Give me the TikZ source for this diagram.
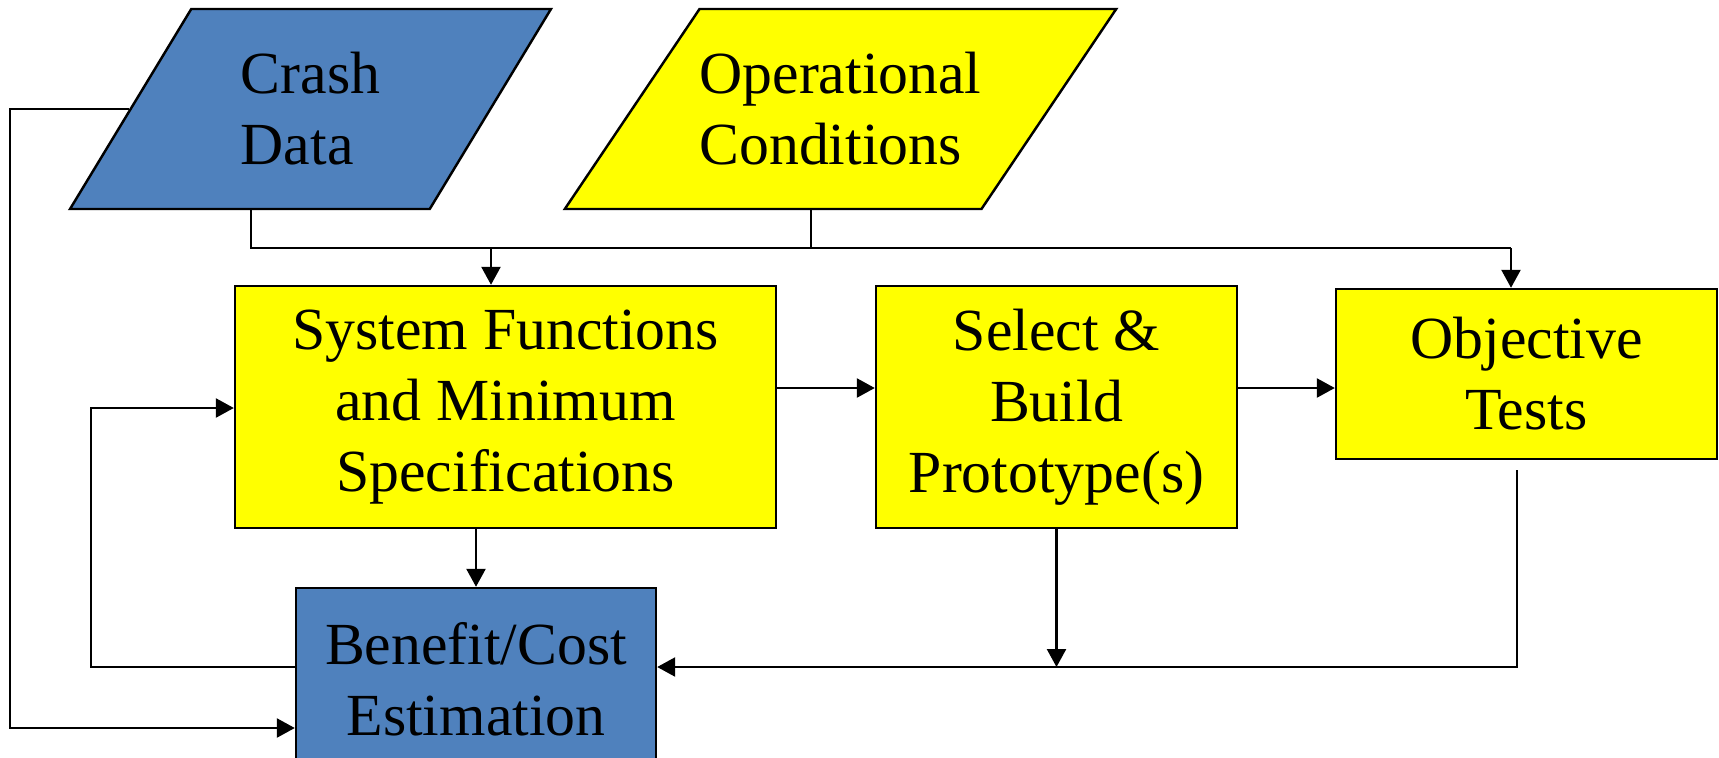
\documentclass[tikz,border=0pt]{standalone}
\usepackage{fontspec}
\setmainfont{Liberation Serif}
\usetikzlibrary{shapes.geometric}
\usetikzlibrary{arrows.meta}
\definecolor{chartblue}{RGB}{79,129,189}
\definecolor{boxyellow}{RGB}{255,255,0}

\begin{document}
\begin{tikzpicture}[x=0.02cm, y=-0.02cm, line width=1.4pt, >={Triangle[length=0.36cm,width=0.38cm]},
	box_node/.style={rectangle,draw,fill=boxyellow,inner sep=0pt,align=center,font=\fontsize{34}{40.4}\selectfont},
	data_node/.style={trapezium,trapezium stretches body,draw,minimum height=4cm,inner sep=0pt,align=left,font=\fontsize{34}{40.4}\selectfont}]

	\useasboundingbox (0,0) rectangle (1719,757);

	\node[data_node,fill=chartblue,minimum width=9.62cm,trapezium left angle=43,trapezium right angle=137] (crash) at (310.5,109) {Crash\\Data};
	\node[data_node,fill=boxyellow,minimum width=10.4cm,trapezium left angle=40,trapezium right angle=140] (oper) at (840.5,109) {Operational\\Conditions};

	\node[box_node,minimum width=10.82cm,minimum height=4.84cm] (sys) at (505.5,407) {System Functions\\and Minimum\\Specifications};
	\node[box_node,minimum width=7.22cm,minimum height=4.84cm] (proto) at (1056.5,407) {Select \&\\Build\\Prototype(s)};
	\node[box_node,minimum width=7.62cm,minimum height=3.4cm] (tests) at (1526.5,374) {Objective\\Tests};
	\node[box_node,fill=chartblue,minimum width=7.2cm,minimum height=3.64cm] (cost) at (476,679) {Benefit/Cost\\Estimation};

	\coordinate (crash_drop) at (251,248);
	\coordinate (oper_drop) at (811,248);
	\coordinate (sys_in) at (491,248);
	\coordinate (top_bus) at (1511,248);
	\coordinate (row) at (0,388);
	\coordinate (fb) at (1517,667);
	\coordinate (outer) at (10,728);
	\coordinate (inner_low) at (91,667);
	\coordinate (inner_up) at (91,408);

	\draw (crash_drop |- crash.south) -- (crash_drop) -- (top_bus)
(oper_drop |- oper.south) -- (oper_drop);
	\draw[->] (top_bus) -- (top_bus |- tests.north);
	\draw[->] (sys_in) -- (sys_in |- sys.north);

	\draw[->] (sys.east |- row) -- (proto.west |- row);
	\draw[->] (proto.east |- row) -- (tests.west |- row);
	\draw[->] (sys.south -| cost.north) -- (cost.north);
	\draw[->] (proto.south) -- (proto.south |- fb);
	\draw[->] ([yshift=-0.2cm]tests.south -| fb) -- (fb) -- (fb -| cost.east);

	\draw[->] (crash.west) -| (outer) -- (outer -| cost.west);
	\draw[->] (cost.west |- inner_low) -- (inner_low) -- (inner_up) -- (inner_up -| sys.west);
\end{tikzpicture}
\end{document}
